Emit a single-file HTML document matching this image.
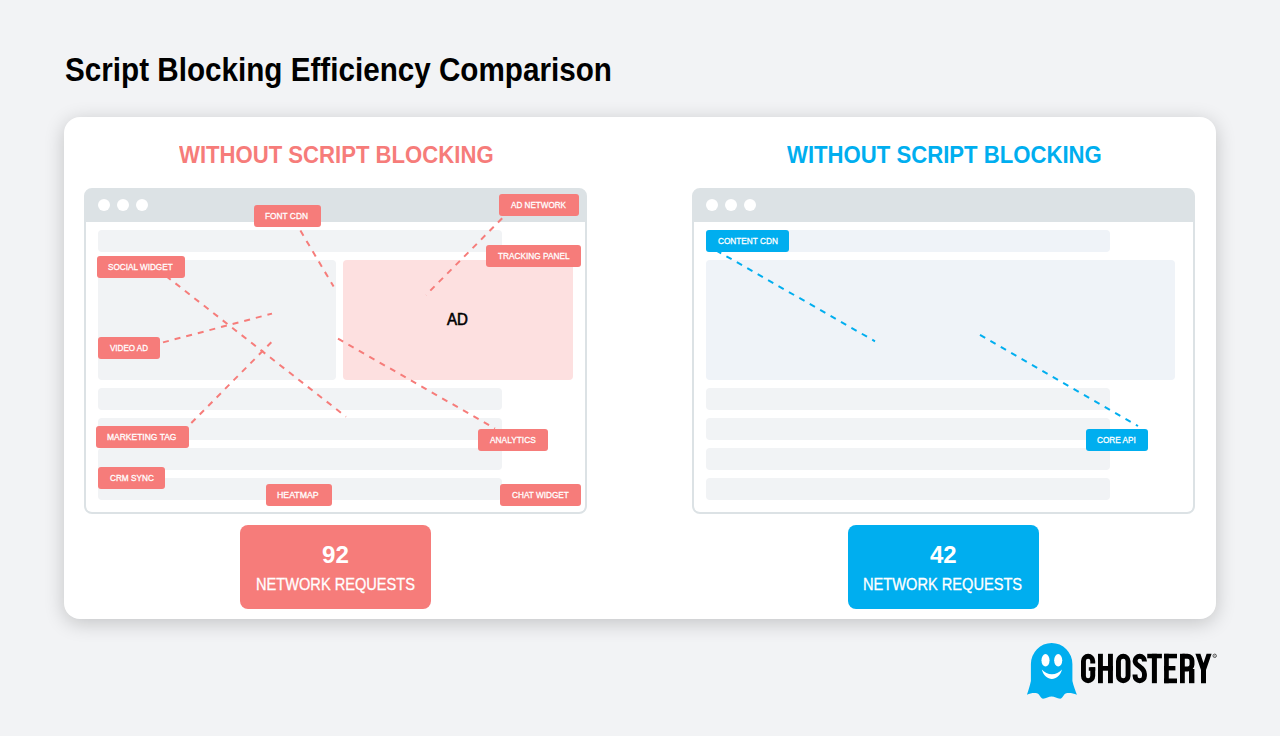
<!DOCTYPE html>
<html><head><meta charset="utf-8">
<style>
*{margin:0;padding:0;box-sizing:border-box}
html,body{width:1280px;height:736px;overflow:hidden;background:#f2f3f5;font-family:"Liberation Sans",sans-serif}
.a{position:absolute}
.t{position:absolute;white-space:nowrap;transform-origin:0 0;line-height:1}
#card{left:64px;top:117px;width:1152px;height:502px;background:#fff;border-radius:16px;box-shadow:0 4px 20px rgba(0,0,0,.2)}
.frame{position:absolute;top:188px;width:503px;height:326px;border:2px solid #dce2e5;border-radius:8px;background:#dce2e5}
.hdr{position:absolute;left:0;top:32px;right:0;bottom:0;background:#fff;border-radius:0 0 6px 6px}
.dot{position:absolute;top:9px;width:12px;height:12px;border-radius:50%;background:#fff}
.row{position:absolute;background:#f1f3f5;border-radius:4px}
.lbl{position:absolute;border-radius:3px}
.stat{position:absolute;top:525px;width:191px;height:84px;border-radius:8px}
</style></head><body>
<div class="a" id="card"></div>

<!-- left frame -->
<div class="frame" style="left:84px">
  <div class="hdr"></div>
  <div class="dot" style="left:12px"></div>
  <div class="dot" style="left:31px"></div>
  <div class="dot" style="left:50px"></div>
</div>
<div class="row" style="left:98px;top:230px;width:404px;height:22px"></div>
<div class="row" style="left:98px;top:260px;width:238px;height:120px"></div>
<div class="row" style="left:343px;top:260px;width:230px;height:120px;background:#fde0e0"></div>
<div class="row" style="left:98px;top:388px;width:404px;height:22px"></div>
<div class="row" style="left:98px;top:418px;width:404px;height:22px"></div>
<div class="row" style="left:98px;top:448px;width:404px;height:22px"></div>
<div class="row" style="left:98px;top:478px;width:404px;height:22px"></div>

<!-- right frame -->
<div class="frame" style="left:692px">
  <div class="hdr"></div>
  <div class="dot" style="left:12px"></div>
  <div class="dot" style="left:31px"></div>
  <div class="dot" style="left:50px"></div>
</div>
<div class="row" style="left:706px;top:230px;width:404px;height:22px;background:#eff3f8"></div>
<div class="row" style="left:706px;top:260px;width:469px;height:120px;background:#eff3f8"></div>
<div class="row" style="left:706px;top:388px;width:404px;height:22px"></div>
<div class="row" style="left:706px;top:418px;width:404px;height:22px"></div>
<div class="row" style="left:706px;top:448px;width:404px;height:22px"></div>
<div class="row" style="left:706px;top:478px;width:404px;height:22px"></div>

<svg class="a" style="left:0;top:0" width="1280" height="736">
  <g stroke="#f67c7a" stroke-width="2" stroke-dasharray="6 6" fill="none">
    <line x1="300.4" y1="230.6" x2="333.6" y2="286.5"/>
    <line x1="502.2" y1="218.3" x2="426" y2="295"/>
    <line x1="166" y1="276" x2="346" y2="416.7"/>
    <line x1="163" y1="342.4" x2="272" y2="313.6"/>
    <line x1="191.3" y1="423" x2="271.3" y2="342.3"/>
    <line x1="338" y1="338.7" x2="495" y2="428.5"/>
  </g>
  <g stroke="#00aeef" stroke-width="2" stroke-dasharray="6 6" fill="none">
    <line x1="716" y1="250.3" x2="875" y2="341.3"/>
    <line x1="980" y1="334.8" x2="1138" y2="426"/>
  </g>
</svg>

<div class="lbl" style="left:254.0px;top:205.0px;width:66.5px;height:22.0px;background:#f67c7a"></div>
<div class="t" style="left:265.15px;top:210.90px;font-size:9.448px;font-weight:normal;color:#fff;-webkit-text-stroke:0.3px #fff;transform:scaleX(0.8837)">FONT CDN</div>
<div class="lbl" style="left:499.0px;top:194.0px;width:79.7px;height:21.7px;background:#f67c7a"></div>
<div class="t" style="left:511.00px;top:199.90px;font-size:9.448px;font-weight:normal;color:#fff;-webkit-text-stroke:0.3px #fff;transform:scaleX(0.8603)">AD NETWORK</div>
<div class="lbl" style="left:486.0px;top:245.2px;width:95.0px;height:21.4px;background:#f67c7a"></div>
<div class="t" style="left:497.87px;top:251.10px;font-size:9.448px;font-weight:normal;color:#fff;-webkit-text-stroke:0.3px #fff;transform:scaleX(0.8766)">TRACKING PANEL</div>
<div class="lbl" style="left:97.1px;top:256.0px;width:88.3px;height:21.9px;background:#f67c7a"></div>
<div class="t" style="left:108.44px;top:261.90px;font-size:9.448px;font-weight:normal;color:#fff;-webkit-text-stroke:0.3px #fff;transform:scaleX(0.8658)">SOCIAL WIDGET</div>
<div class="lbl" style="left:98.0px;top:337.0px;width:62.3px;height:21.8px;background:#f67c7a"></div>
<div class="t" style="left:110.00px;top:342.90px;font-size:9.448px;font-weight:normal;color:#fff;-webkit-text-stroke:0.3px #fff;transform:scaleX(0.8523)">VIDEO AD</div>
<div class="lbl" style="left:96.0px;top:425.9px;width:92.5px;height:22.0px;background:#f67c7a"></div>
<div class="t" style="left:107.14px;top:431.80px;font-size:9.448px;font-weight:normal;color:#fff;-webkit-text-stroke:0.3px #fff;transform:scaleX(0.8992)">MARKETING TAG</div>
<div class="lbl" style="left:478.1px;top:429.0px;width:70.2px;height:21.8px;background:#f67c7a"></div>
<div class="t" style="left:489.90px;top:434.90px;font-size:9.448px;font-weight:normal;color:#fff;-webkit-text-stroke:0.3px #fff;transform:scaleX(0.8851)">ANALYTICS</div>
<div class="lbl" style="left:98.1px;top:467.1px;width:67.3px;height:21.7px;background:#f67c7a"></div>
<div class="t" style="left:109.61px;top:473.00px;font-size:9.448px;font-weight:normal;color:#fff;-webkit-text-stroke:0.3px #fff;transform:scaleX(0.8706)">CRM SYNC</div>
<div class="lbl" style="left:266.0px;top:484.0px;width:65.5px;height:21.8px;background:#f67c7a"></div>
<div class="t" style="left:277.21px;top:489.90px;font-size:9.448px;font-weight:normal;color:#fff;-webkit-text-stroke:0.3px #fff;transform:scaleX(0.9285)">HEATMAP</div>
<div class="lbl" style="left:500.0px;top:484.0px;width:81.2px;height:21.7px;background:#f67c7a"></div>
<div class="t" style="left:511.51px;top:489.90px;font-size:9.448px;font-weight:normal;color:#fff;-webkit-text-stroke:0.3px #fff;transform:scaleX(0.8716)">CHAT WIDGET</div>
<div class="lbl" style="left:706.1px;top:230.0px;width:83.4px;height:21.7px;background:#00aeef"></div>
<div class="t" style="left:717.61px;top:235.90px;font-size:9.448px;font-weight:normal;color:#fff;-webkit-text-stroke:0.3px #fff;transform:scaleX(0.8735)">CONTENT CDN</div>
<div class="lbl" style="left:1085.9px;top:429.0px;width:62.5px;height:21.9px;background:#00aeef"></div>
<div class="t" style="left:1097.41px;top:434.90px;font-size:9.448px;font-weight:normal;color:#fff;-webkit-text-stroke:0.3px #fff;transform:scaleX(0.8711)">CORE API</div>

<div class="stat" style="left:240px;background:#f67c7a"></div>
<div class="stat" style="left:848px;background:#00aeef"></div>

<div class="t" style="left:64.54px;top:52.80px;font-size:33.184px;font-weight:bold;color:#000;transform:scaleX(0.8937)">Script Blocking Efficiency Comparison</div>
<div class="t" style="left:178.60px;top:143.10px;font-size:24.564px;font-weight:bold;color:#f67c7a;transform:scaleX(0.9012)">WITHOUT SCRIPT BLOCKING</div>
<div class="t" style="left:786.50px;top:143.10px;font-size:24.564px;font-weight:bold;color:#00aeef;transform:scaleX(0.9017)">WITHOUT SCRIPT BLOCKING</div>
<div class="t" style="left:321.99px;top:543.00px;font-size:24.564px;font-weight:bold;color:#fff;transform:scaleX(0.9848)">92</div>
<div class="t" style="left:930.30px;top:543.00px;font-size:24.564px;font-weight:bold;color:#fff;transform:scaleX(0.9771)">42</div>
<div class="t" style="left:255.66px;top:576.59px;font-size:15.843px;font-weight:normal;color:#fff;-webkit-text-stroke:0.3px #fff;transform:scaleX(0.9225)">NETWORK REQUESTS</div>
<div class="t" style="left:863.46px;top:576.59px;font-size:15.843px;font-weight:normal;color:#fff;-webkit-text-stroke:0.3px #fff;transform:scaleX(0.9231)">NETWORK REQUESTS</div>
<div class="t" style="left:447.00px;top:311.45px;font-size:16.061px;font-weight:normal;color:#000;-webkit-text-stroke:0.6px #000;transform:scaleX(0.9377)">AD</div>

<!-- logo -->
<svg class="a" style="left:0;top:0" width="1280" height="736">
  <g fill="#00aeef">
    <path d="M1030.9 681 V664 A20.75 21 0 0 1 1072.4 664 V681 C1073.5 686 1075.5 691 1076.9 694.8 C1072 692.8 1066.5 692.2 1064.3 694.6 C1062.8 696.4 1062 698.8 1060.2 698.8 C1057 698.8 1054.5 696.6 1051.6 696.6 C1048.7 696.6 1046.2 698.8 1043 698.8 C1041.2 698.8 1040.4 696.4 1038.9 694.6 C1036.7 692.2 1031.2 692.8 1026.9 694.8 C1028.3 691 1029.8 686 1030.9 681 Z"/>
  </g>
  <g fill="#fff">
    <ellipse cx="1045.5" cy="660.3" rx="4.05" ry="6.2"/>
    <ellipse cx="1058.2" cy="660.3" rx="4.05" ry="6.2"/>
    <path d="M1041.8 669.6 C1043.6 676 1047.6 679 1051.9 679 C1056.2 679 1060.2 676 1062 669.6 C1059.2 672.8 1055.8 674.3 1051.9 674.3 C1048 674.3 1044.6 672.8 1041.8 669.6 Z"/>
  </g>
  <g fill="#000">
    <rect x="1098" y="653.8" width="4.9" height="29.4"/>
    <rect x="1108" y="653.8" width="4.9" height="29.4"/>
    <rect x="1098" y="666" width="14.9" height="4.7"/>
    <rect x="1147.25" y="653.8" width="14.65" height="4.5"/>
    <rect x="1151.9" y="653.8" width="5" height="29.4"/>
    <rect x="1164.1" y="653.8" width="4.7" height="29.4"/>
    <rect x="1164.1" y="653.8" width="12.9" height="4.5"/>
    <rect x="1164.1" y="666" width="11.3" height="4.4"/>
    <rect x="1164.1" y="678.5" width="12.9" height="4.7"/>
    <rect x="1180" y="653.8" width="4.8" height="29.4"/>
    <rect x="1189" y="669" width="5.4" height="14.2"/>
    <path d="M1195.4 653.8 H1200.4 L1203.5 663 L1206.6 653.8 H1211.6 L1206 670 V683.2 H1201 V670 Z"/>
  </g>
  <g fill="none" stroke="#000" stroke-width="4.9" stroke-linejoin="round">
    <path d="M1092.75 663.5 V660.9 A4.65 4.65 0 0 0 1083.45 660.9 V676.1 A4.65 4.65 0 0 0 1092.75 676.1 V667.3"/>
    <rect x="1118.45" y="656.25" width="9.6" height="24.5" rx="4.8"/>
    <path d="M1144.45 661.6 V660.95 A4.7 4.7 0 0 0 1135.05 660.95 C1135.05 666.2 1144.45 666.8 1144.45 674 V676 A4.7 4.7 0 0 1 1135.05 676 V674.4"/>
    <path d="M1182.4 656.25 H1187.5 A4.5 4.5 0 0 1 1192 660.75 V664.5 A4.5 4.5 0 0 1 1187.5 669 H1182.4"/>
  </g>
  <rect x="1088.8" y="667.25" width="6.4" height="3.5" fill="#000"/>
  <circle cx="1214.7" cy="655.8" r="1.7" fill="none" stroke="#444" stroke-width=".9"/><circle cx="1214.7" cy="655.8" r=".6" fill="#666"/>
</svg>
</body></html>
